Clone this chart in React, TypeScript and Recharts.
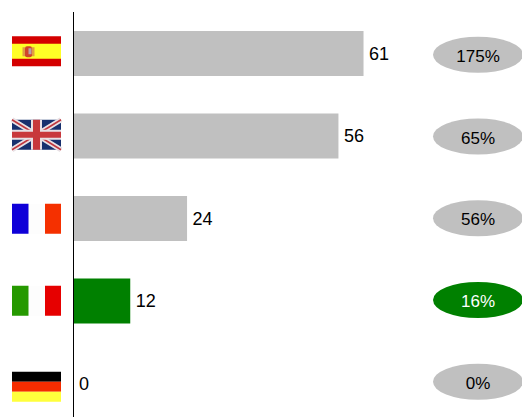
import { Bar, BarChart, Cell, LabelList, XAxis, YAxis } from 'recharts'

const countries = ['Spain', 'UK', 'France', 'Italy', 'Germany']
const values = [61.3, 56, 24, 12, 0]
const shares = ['175%', '65%', '56%', '16%', '0%']
const highlighted = ['Italy']

const data = countries.map((country, i) => ({
  country,
  value: values[i],
  share: shares[i],
}))

const GREY = '#c0c0c0'
const GREEN = '#008000'
const FONT = '"Liberation Sans", Arial, sans-serif'

const FLAG_W = 49
const FLAG_H = 30

function Spain() {
  return (
    <g>
      <rect width={FLAG_W} height={FLAG_H} fill="#d40000" />
      <rect y={7.5} width={FLAG_W} height={15} fill="#ffff26" />
      <rect x={10.5} y={11} width={2.5} height={9} fill="#e0a040" />
      <rect x={20} y={11} width={2.5} height={9} fill="#e0a040" />
      <rect x={13} y={10} width={7} height={11} rx={2} fill="#d0452a" />
      <rect x={16.5} y={12} width={3} height={6} fill="#b9a3a8" />
    </g>
  )
}

function UK() {
  return (
    <g>
      <rect width={FLAG_W} height={FLAG_H} fill="#17306e" />
      <path d={`M0 0L${FLAG_W} ${FLAG_H}M${FLAG_W} 0L0 ${FLAG_H}`} stroke="#e8e0e4" strokeWidth={5} />
      <path d={`M0 0L${FLAG_W} ${FLAG_H}M${FLAG_W} 0L0 ${FLAG_H}`} stroke="#c0383f" strokeWidth={1.6} />
      <rect x={19} width={11} height={FLAG_H} fill="#e8e0e4" />
      <rect y={10} width={FLAG_W} height={10} fill="#e8e0e4" />
      <rect x={21} width={7} height={FLAG_H} fill="#c8383c" />
      <rect y={12} width={FLAG_W} height={6} fill="#c8383c" />
    </g>
  )
}

function Tricolor({ left, right }: { left: string; right: string }) {
  return (
    <g>
      <rect width={FLAG_W} height={FLAG_H} fill="#fdfdfd" />
      <rect width={16.5} height={FLAG_H} fill={left} />
      <rect x={33} width={16} height={FLAG_H} fill={right} />
    </g>
  )
}

function Germany() {
  return (
    <g>
      <rect width={FLAG_W} height={10} fill="#000" />
      <rect y={10} width={FLAG_W} height={10} fill="#f52c00" />
      <rect y={20} width={FLAG_W} height={10} fill="#ffff3c" />
    </g>
  )
}

const flags: Record<string, { node: any; dy: number }> = {
  Spain: { node: <Spain />, dy: -2 },
  UK: { node: <UK />, dy: -1 },
  France: { node: <Tricolor left="#0f00d8" right="#f53000" />, dy: 0.5 },
  Italy: { node: <Tricolor left="#269900" right="#e60000" />, dy: 0 },
  Germany: { node: <Germany />, dy: 3.5 },
}

function FlagTick({ y, payload }: any) {
  const flag = flags[payload.value]
  return <g transform={`translate(12, ${y - FLAG_H / 2 + flag.dy})`}>{flag.node}</g>
}

function ShareTick({ x, y, payload, index }: any) {
  const on = highlighted.includes(countries[index])
  // the ovals sit a little closer together than the bars
  const dy = (2 - index) * 0.75
  return (
    <g transform={`translate(${x + 18}, ${y + dy})`}>
      <ellipse rx={45} ry={18} fill={on ? GREEN : GREY} />
      <text y={7} textAnchor="middle" fontSize={17} fontFamily={FONT} fill={on ? '#fff' : '#000'}>
        {payload.value}
      </text>
    </g>
  )
}

function ValueLabel({ x, y, width, height, value }: any) {
  return (
    <text
      x={x + width + 5.5}
      y={y + height / 2 + 6}
      fontSize={18}
      fontFamily={FONT}
      fill="#000"
    >
      {Math.round(value)}
    </text>
  )
}

export default function App() {
  return (
    <div style={{ position: 'absolute', left: 0, top: 0, width: 522, height: 417, overflow: 'hidden' }}>
      <BarChart
        width={522}
        height={424.5}
        data={data}
        layout="vertical"
        margin={{ top: 12, right: 0, bottom: 0, left: 0 }}
      >
        <XAxis type="number" domain={[0, 80]} hide />
        <YAxis
          yAxisId="flags"
          type="category"
          dataKey="country"
          width={73.5}
          axisLine={{ stroke: '#000' }}
          tickLine={false}
          tick={<FlagTick />}
          interval={0}
        />
        <YAxis
          yAxisId="shares"
          type="category"
          dataKey="share"
          orientation="right"
          width={70}
          axisLine={false}
          tickLine={false}
          tick={<ShareTick />}
          interval={0}
        />
        <Bar yAxisId="flags" dataKey="value" barSize={45} minPointSize={0.01} isAnimationActive={false}>
          {data.map((d) => (
            <Cell key={d.country} fill={highlighted.includes(d.country) ? GREEN : GREY} />
          ))}
          <LabelList dataKey="value" content={<ValueLabel />} />
        </Bar>
      </BarChart>
    </div>
  )
}
